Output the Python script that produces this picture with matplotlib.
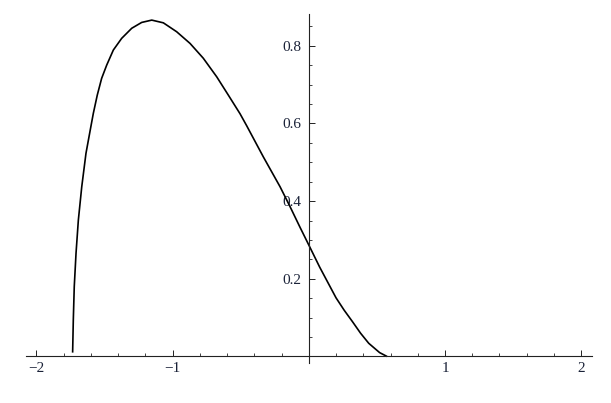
import matplotlib.pyplot as plt
import numpy as np

plt.rcParams.update({'font.family': ['Liberation Serif', 'DejaVu Serif']})
plt.rcParams.update({'font.size': 11})

# curve
x_vals = [-1.734, -1.729, -1.722, -1.709, -1.692, -1.667, -1.636, -1.601, -1.582,
          -1.553, -1.521, -1.484, -1.435, -1.374, -1.300, -1.227, -1.153,
          -1.068, -0.970, -0.872, -0.775, -0.676, -0.591, -0.505, -0.456, -0.334,
          -0.211, -0.138, -0.065, 0.0, 0.08, 0.2, 0.26, 0.32, 0.38, 0.44, 0.52, 0.575]
y_vals = [0.01, 0.094, 0.180, 0.266, 0.351, 0.437, 0.523, 0.590, 0.626,
          0.673, 0.716, 0.750, 0.789, 0.819, 0.845, 0.860, 0.866,
          0.859, 0.836, 0.806, 0.768, 0.720, 0.673, 0.625, 0.594, 0.514,
          0.437, 0.386, 0.333, 0.287, 0.230, 0.151, 0.119, 0.090, 0.060, 0.034, 0.010, 0.0]

x_major = [-2, -1, 1, 2]
x_labels = ['\u22122', '\u22121', '1', '2']
y_major = [0.2, 0.4, 0.6, 0.8]
y_labels = ['0.2', '0.4', '0.6', '0.8']

fig = plt.figure(figsize=(6.11, 4.03), dpi=100)
ax = fig.add_axes([25.5 / 611, 0.099, 566.6 / 611, 0.8675])

ax.plot(x_vals, y_vals, color='black', linewidth=1.2, solid_capstyle='butt', solid_joinstyle='round')

ax.set_xlim(-2.08, 2.08)
ax.set_ylim(-0.017, 0.883)

ax.spines['left'].set_position(('data', 0))
ax.spines['bottom'].set_position(('data', 0))
ax.spines['right'].set_visible(False)
ax.spines['top'].set_visible(False)
for s in ['left', 'bottom']:
    ax.spines[s].set_linewidth(0.8)
    ax.spines[s].set_color('#222222')

ax.set_xticks(x_major)
ax.set_xticklabels(x_labels)
ax.set_xticks(np.arange(-2.0, 2.01, 0.2), minor=True)
ax.set_yticks(y_major)
ax.set_yticklabels(y_labels)
ax.set_yticks(np.arange(0.05, 0.86, 0.05), minor=True)

ax.tick_params(axis='both', which='major', direction='in', length=4.5, width=0.7, pad=4, colors='#222222')
ax.tick_params(axis='both', which='minor', direction='in', length=2.5, width=0.6, colors='#222222')
ax.tick_params(axis='y', which='major', pad=5)
for lab in ax.get_xticklabels() + ax.get_yticklabels():
    lab.set_color('#1a2238')

fig.savefig('out.png', dpi=100)
